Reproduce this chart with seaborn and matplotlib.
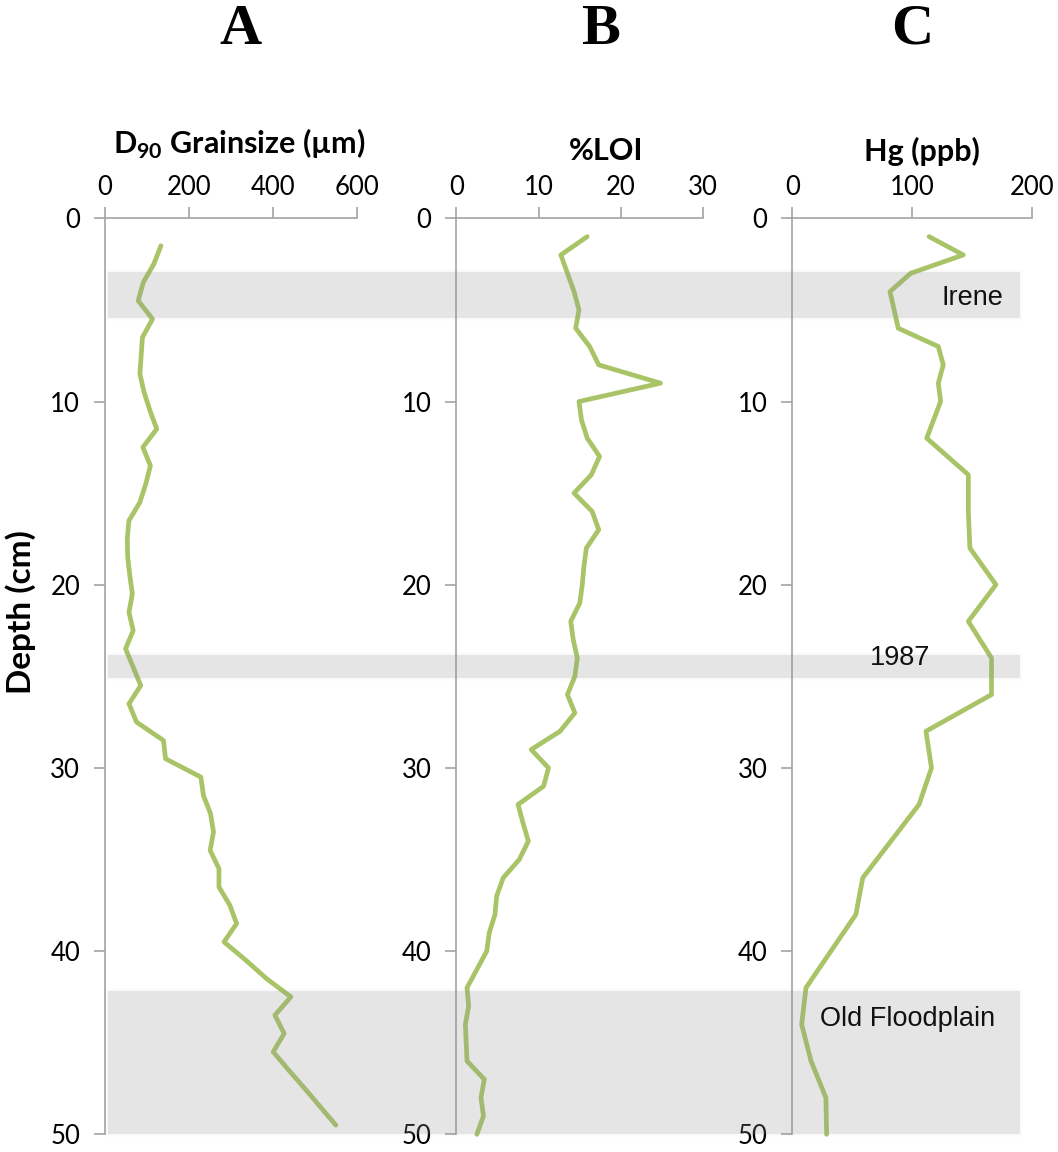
import matplotlib
matplotlib.use("Agg")
import matplotlib.pyplot as plt
import matplotlib.transforms as mtransforms
from matplotlib.patches import Rectangle
import seaborn as sns

# ---- core data -------------------------------------------------------------
depth_grain = [1.5, 2.5, 3.5, 4.5, 5.5, 6.5, 7.5, 8.5, 9.5, 10.5,
               11.5, 12.5, 13.5, 14.5, 15.5, 16.5, 17.5, 18.5, 19.5, 20.5,
               21.5, 22.5, 23.5, 24.5, 25.5, 26.5, 27.5, 28.5, 29.5, 30.5,
               31.5, 32.5, 33.5, 34.5, 35.5, 36.5, 37.5, 38.5, 39.5, 40.5,
               41.5, 42.5, 43.5, 44.5, 45.5, 46.5, 47.5, 48.5, 49.5]
d90_um = [133, 116, 91, 79, 113, 89, 86, 83, 93, 107,
          123, 90, 108, 97, 83, 57, 53, 54, 59, 65,
          57, 67, 49, 67, 85, 57, 75, 139, 144, 228,
          234, 251, 258, 250, 271, 271, 297, 313, 283, 335,
          384, 442, 404, 426, 400, 437, 475, 512, 549]

depth_loi = [1, 2, 3, 4, 5, 6, 7, 8, 9, 10,
             11, 12, 13, 14, 15, 16, 17, 18, 19, 20,
             21, 22, 23, 24, 25, 26, 27, 28, 29, 30,
             31, 32, 33, 34, 35, 36, 37, 38, 39, 40,
             41, 42, 43, 44, 45, 46, 47, 48, 49, 50]
loi_pct = [15.9, 12.7, 13.5, 14.3, 14.9, 14.5, 16.2, 17.3, 24.8, 14.9,
           15.2, 15.9, 17.4, 16.4, 14.3, 16.5, 17.3, 15.8, 15.5, 15.3,
           15.0, 13.9, 14.2, 14.7, 14.4, 13.5, 14.4, 12.6, 9.1, 11.2,
           10.6, 7.5, 8.1, 8.75, 7.65, 5.7, 4.9, 4.7, 4.0, 3.7,
           2.5, 1.3, 1.5, 1.1, 1.2, 1.3, 3.4, 3.0, 3.3, 2.5]

depth_hg = [1, 2, 3, 4, 6, 7, 8, 9, 10, 12, 14, 16, 18, 20,
            22, 24, 26, 28, 30, 32, 36, 38, 42, 44, 46, 48, 50]
hg_ppb = [114, 142.5, 98.7, 81.4, 88.3, 121.7, 125.8, 121.7, 123.6, 112,
          146.7, 146.7, 148, 169.7, 146.7, 166, 166, 111.4, 116, 105.6,
          58.7, 53, 11.4, 7.8, 15.6, 28, 28.6]

panel_letters = ["A", "B", "C"]
panel_titles = [r"D$_{\mathbf{90}}$ Grainsize (µm)", "%LOI", "Hg (ppb)"]
x_ticks = [[0, 200, 400, 600], [0, 10, 20, 30], [0, 100, 200]]
y_ticks = [0, 10, 20, 30, 40, 50]

# depth intervals of the marked horizons: (top, bottom, label)
horizons = [(2.95, 5.45, "Irene"), (23.85, 25.1, "1987"), (42.2, 50.0, "Old Floodplain")]

# ---- style -----------------------------------------------------------------
sns.set_style("ticks")
plt.rcParams["font.family"] = ["Lato", "DejaVu Sans"]
plt.rcParams["mathtext.fontset"] = "custom"
plt.rcParams["mathtext.rm"] = "Lato"
plt.rcParams["mathtext.bf"] = "Lato:bold"

W, H = 1058, 1152
fig = plt.figure(figsize=(W / 100, H / 100), dpi=100)
fig.patch.set_facecolor("white")

line_green = "#a8c467"
axis_gray = "#a3a3a3"


def rect_px(left, right, top, bottom):
    return [left / W, 1 - bottom / H, (right - left) / W, (bottom - top) / H]


top_px, bottom_px = 218.3, 1134.3
axes = [
    fig.add_axes(rect_px(105.0, 357.3, top_px, bottom_px)),
    fig.add_axes(rect_px(456.3, 703.3, top_px, bottom_px)),
    fig.add_axes(rect_px(792.3, 1032.3, top_px, bottom_px)),
]
series = [(d90_um, depth_grain), (loi_pct, depth_loi), (hg_ppb, depth_hg)]

for ax, (xs, ys), ticks in zip(axes, series, x_ticks):
    sns.lineplot(x=xs, y=ys, sort=False, estimator=None, ax=ax,
                 color=line_green, linewidth=3.4, clip_on=False)
    ax.set_xlim(ticks[0], ticks[-1])
    ax.set_ylim(50, 0)
    ax.set_xticks(ticks)
    ax.set_yticks(y_ticks)
    ax.xaxis.tick_top()
    ax.set_xlabel("")
    ax.set_ylabel("")
    ax.set_facecolor("none")
    for side in ("right", "bottom"):
        ax.spines[side].set_visible(False)
    for side in ("top", "left"):
        ax.spines[side].set_color(axis_gray)
        ax.spines[side].set_linewidth(1.2)
    ax.tick_params(axis="x", direction="out", length=8, width=1.2,
                   color=axis_gray, labelsize=18.5, pad=5, labelcolor="black")
    ax.tick_params(axis="y", direction="out", length=8, width=1.2,
                   color=axis_gray, labelsize=18.5, pad=10, labelcolor="black")

# horizon bands spanning all three panels
band_tf = mtransforms.blended_transform_factory(fig.transFigure, axes[0].transData)
px_per_cm = (bottom_px - top_px) / 50.0
x0, x1 = 108 / W, 1020 / W
for top, bottom, _ in horizons:
    # soft halo
    for k in (3, 2, 1):
        pad_cm = k / px_per_cm
        fig.add_artist(Rectangle((x0 - k / W, top - pad_cm), (x1 - x0) + 2 * k / W,
                                 (bottom - top) + 2 * pad_cm, transform=band_tf,
                                 facecolor=(0.6, 0.6, 0.6), alpha=0.015,
                                 edgecolor="none", zorder=4))
    fig.add_artist(Rectangle((x0, top), x1 - x0, bottom - top, transform=band_tf,
                             facecolor=(0.6, 0.6, 0.6), alpha=0.2,
                             edgecolor="none", zorder=5))

# horizon labels
label_pos = [(972, 305), (900, 665), (908, 1026)]
for (_, _, name), (lx, ly) in zip(horizons, label_pos):
    fig.text(lx / W, 1 - ly / H, name, ha="center", va="baseline",
             fontsize=19.5, family=["Liberation Sans", "DejaVu Sans"],
             color="#111111", zorder=6)

# panel titles
title_pos = [(239, 144), (606, 151), (922, 151)]
for t, (tx, ty) in zip(panel_titles, title_pos):
    fig.text(tx / W, 1 - ty / H, t, ha="center", va="center",
             fontsize=22, fontweight="bold", color="black")

# panel letters
letter_pos = [(240, 30), (600, 30), (912, 30)]
for letter, (lx, ly) in zip(panel_letters, letter_pos):
    fig.text(lx / W, 1 - ly / H, letter, ha="center", va="center",
             fontsize=42, fontweight="bold",
             family=["Liberation Serif", "DejaVu Serif"], color="black")

# shared depth axis label
fig.text(21 / W, 1 - 612 / H, "Depth (cm)", rotation=90, ha="center",
         va="center", fontsize=24, fontweight="bold", color="black")

fig.savefig("out.png", dpi=100, facecolor="white")
